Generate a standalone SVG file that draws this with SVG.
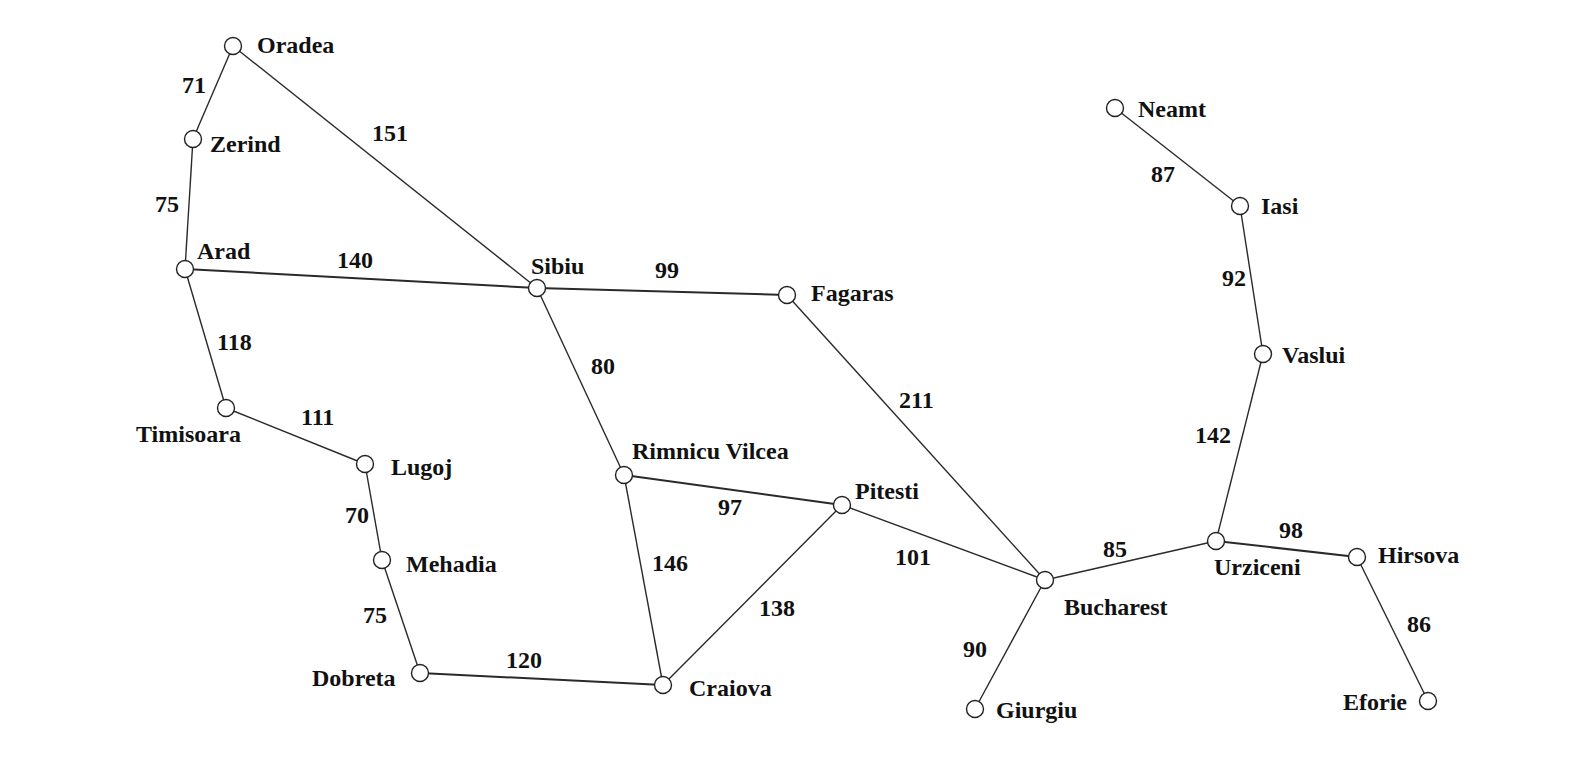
<svg xmlns="http://www.w3.org/2000/svg" width="1596" height="776" viewBox="0 0 1596 776">
<style>
.e{stroke:#2a2a2a;stroke-width:1.4;fill:none}
.t{stroke-width:2}
.n{fill:#fff;stroke:#222;stroke-width:1.4}
text{font-family:"Liberation Serif","Times New Roman",serif;font-weight:bold;font-size:24px;fill:#111}
</style>
<rect width="1596" height="776" fill="#fff"/>
<g id="connectors">
<line class="e" x1="233" y1="46" x2="193" y2="139"/>
<line class="e" x1="233" y1="46" x2="537" y2="288"/>
<line class="e" x1="193" y1="139" x2="185" y2="269"/>
<line class="e t" x1="185" y1="269" x2="537" y2="288"/>
<line class="e" x1="185" y1="269" x2="226" y2="408"/>
<line class="e" x1="226" y1="408" x2="365" y2="464"/>
<line class="e" x1="365" y1="464" x2="382" y2="560"/>
<line class="e" x1="382" y1="560" x2="420" y2="673"/>
<line class="e t" x1="420" y1="673" x2="663" y2="685"/>
<line class="e t" x1="537" y1="288" x2="787" y2="295"/>
<line class="e" x1="537" y1="288" x2="624" y2="475"/>
<line class="e t" x1="624" y1="475" x2="842" y2="505"/>
<line class="e" x1="624" y1="475" x2="663" y2="685"/>
<line class="e" x1="663" y1="685" x2="842" y2="505"/>
<line class="e" x1="787" y1="295" x2="1045" y2="580"/>
<line class="e" x1="842" y1="505" x2="1045" y2="580"/>
<line class="e" x1="1045" y1="580" x2="975" y2="709"/>
<line class="e" x1="1045" y1="580" x2="1216" y2="541"/>
<line class="e t" x1="1216" y1="541" x2="1357" y2="557"/>
<line class="e" x1="1357" y1="557" x2="1428" y2="701"/>
<line class="e" x1="1216" y1="541" x2="1263" y2="354"/>
<line class="e" x1="1263" y1="354" x2="1240" y2="206"/>
<line class="e" x1="1240" y1="206" x2="1115" y2="108"/>
<text x="182" y="93">71</text>
<text x="372" y="141">151</text>
<text x="155" y="212">75</text>
<text x="337" y="268">140</text>
<text x="217" y="350">118</text>
<text x="301" y="425">111</text>
<text x="345" y="523">70</text>
<text x="363" y="623">75</text>
<text x="506" y="668">120</text>
<text x="655" y="278">99</text>
<text x="591" y="374">80</text>
<text x="718" y="515">97</text>
<text x="652" y="571">146</text>
<text x="759" y="616">138</text>
<text x="899" y="408">211</text>
<text x="895" y="565">101</text>
<text x="963" y="657">90</text>
<text x="1103" y="557">85</text>
<text x="1279" y="538">98</text>
<text x="1407" y="632">86</text>
<text x="1195" y="443">142</text>
<text x="1222" y="286">92</text>
<text x="1151" y="182">87</text>
</g>
<g id="oradea"><circle class="n" cx="233" cy="46" r="8.5"/><text x="257" y="53">Oradea</text></g>
<g id="zerind"><circle class="n" cx="193" cy="139" r="8.5"/><text x="210" y="152">Zerind</text></g>
<g id="arad"><circle class="n" cx="185" cy="269" r="8.5"/><text x="197" y="259">Arad</text></g>
<g id="sibiu"><circle class="n" cx="537" cy="288" r="8.5"/><text x="531" y="274">Sibiu</text></g>
<g id="fagaras"><circle class="n" cx="787" cy="295" r="8.5"/><text x="811" y="301">Fagaras</text></g>
<g id="timisoara"><circle class="n" cx="226" cy="408" r="8.5"/><text x="136" y="442">Timisoara</text></g>
<g id="lugoj"><circle class="n" cx="365" cy="464" r="8.5"/><text x="391" y="475">Lugoj</text></g>
<g id="mehadia"><circle class="n" cx="382" cy="560" r="8.5"/><text x="406" y="572">Mehadia</text></g>
<g id="dobreta"><circle class="n" cx="420" cy="673" r="8.5"/><text x="312" y="686">Dobreta</text></g>
<g id="rimnicu"><circle class="n" cx="624" cy="475" r="8.5"/><text x="632" y="459">Rimnicu Vilcea</text></g>
<g id="pitesti"><circle class="n" cx="842" cy="505" r="8.5"/><text x="855" y="499">Pitesti</text></g>
<g id="craiova"><circle class="n" cx="663" cy="685" r="8.5"/><text x="689" y="696">Craiova</text></g>
<g id="bucharest"><circle class="n" cx="1045" cy="580" r="8.5"/><text x="1064" y="615">Bucharest</text></g>
<g id="giurgiu"><circle class="n" cx="975" cy="709" r="8.5"/><text x="996" y="718">Giurgiu</text></g>
<g id="urziceni"><circle class="n" cx="1216" cy="541" r="8.5"/><text x="1214" y="575">Urziceni</text></g>
<g id="hirsova"><circle class="n" cx="1357" cy="557" r="8.5"/><text x="1378" y="563">Hirsova</text></g>
<g id="eforie"><circle class="n" cx="1428" cy="701" r="8.5"/><text x="1343" y="710">Eforie</text></g>
<g id="vaslui"><circle class="n" cx="1263" cy="354" r="8.5"/><text x="1282" y="363">Vaslui</text></g>
<g id="iasi"><circle class="n" cx="1240" cy="206" r="8.5"/><text x="1261" y="214">Iasi</text></g>
<g id="neamt"><circle class="n" cx="1115" cy="108" r="8.5"/><text x="1138" y="117">Neamt</text></g>
</svg>
